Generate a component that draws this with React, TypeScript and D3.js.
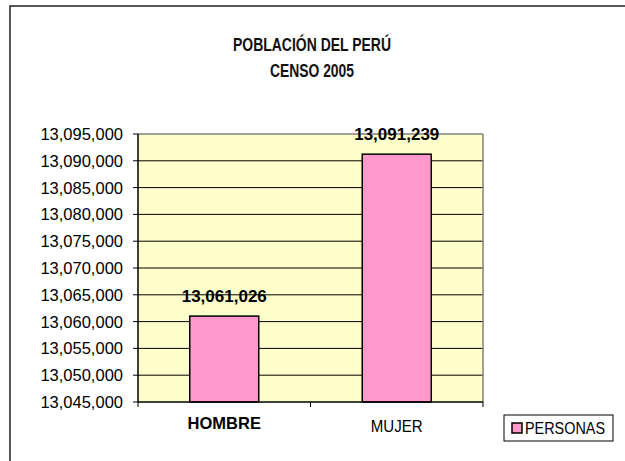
import React from "react";
import * as d3 from "d3";

const categories = ["HOMBRE", "MUJER"];
const values = [13061026, 13091239];
const yTicks = [13045000, 13050000, 13055000, 13060000, 13065000, 13070000, 13075000, 13080000, 13085000, 13090000, 13095000];
const seriesName = "PERSONAS";
const titleLines = ["POBLACIÓN DEL PERÚ", "CENSO 2005"];
const titleWidths = [158, 84];

const W = 625;
const H = 461;
const plot = { left: 138, right: 483, top: 134, bottom: 402 };
const fmt = d3.format(",");
const sans = "'Liberation Sans', Arial, sans-serif";

export default function App() {
  const x = d3
    .scaleBand<string>()
    .domain(categories)
    .range([plot.left, plot.right])
    .paddingInner(0.6)
    .paddingOuter(0.3);
  const y = d3.scaleLinear().domain([13045000, 13095000]).range([plot.bottom, plot.top]);
  const step = x.step();
  const boundaries = [plot.left, plot.left + step, plot.right];

  return (
    <svg
      width={W}
      height={H}
      style={{ position: "absolute", left: 0, top: 0, display: "block", background: "#fff" }}
    >
      <rect x={10} y={6} width={W + 20} height={H + 20} fill="#fff" stroke="#222" strokeWidth={1.5} />
      {titleLines.map((t, i) => (
        <text
          key={t}
          x={312 - titleWidths[i] / 2}
          y={51 + i * 26}
          textLength={titleWidths[i]}
          lengthAdjust="spacingAndGlyphs"
          fontFamily={sans}
          fontWeight="bold"
          fontSize={18}
          fill="#111"
        >
          {t}
        </text>
      ))}
      <rect
        x={plot.left}
        y={plot.top}
        width={plot.right - plot.left}
        height={plot.bottom - plot.top}
        fill="#FFFFCC"
      />
      {yTicks.map((t) => (
        <g key={t}>
          {t !== 13095000 && t !== 13045000 && (
            <line x1={plot.left} x2={plot.right} y1={y(t)} y2={y(t)} stroke="#000" strokeWidth={1} />
          )}
          <line x1={plot.left - 5} x2={plot.left} y1={y(t)} y2={y(t)} stroke="#000" strokeWidth={1} />
          <text
            x={123}
            y={y(t)}
            dy="0.36em"
            textAnchor="end"
            fontFamily={sans}
            fontSize={16.5}
            fill="#000"
          >
            {fmt(t)}
          </text>
        </g>
      ))}
      <line x1={plot.left} x2={plot.right} y1={plot.top} y2={plot.top} stroke="#808080" strokeWidth={1.5} />
      <line x1={plot.right} x2={plot.right} y1={plot.top} y2={plot.bottom} stroke="#808080" strokeWidth={1.5} />
      {categories.map((c, i) => (
        <rect
          key={c}
          x={x(c)}
          y={y(values[i])}
          width={x.bandwidth()}
          height={plot.bottom - y(values[i])}
          fill="#FF99CC"
          stroke="#000"
          strokeWidth={1.5}
        />
      ))}
      <line x1={plot.left} x2={plot.left} y1={plot.top} y2={plot.bottom} stroke="#000" strokeWidth={1.5} />
      <line x1={plot.left} x2={plot.right} y1={plot.bottom} y2={plot.bottom} stroke="#000" strokeWidth={1.5} />
      {boundaries.map((b, i) => (
        <line key={i} x1={b} x2={b} y1={plot.bottom} y2={plot.bottom + 5} stroke="#000" strokeWidth={1} />
      ))}
      {categories.map((c, i) => (
        <text
          key={c + "v"}
          x={(x(c) as number) + x.bandwidth() / 2}
          y={y(values[i]) - 14}
          textAnchor="middle"
          fontFamily={sans}
          fontWeight="bold"
          fontSize={17}
          fill="#000"
        >
          {fmt(values[i])}
        </text>
      ))}
      <text
        x={(x(categories[0]) as number) + x.bandwidth() / 2}
        y={429}
        textAnchor="middle"
        fontFamily={sans}
        fontWeight="bold"
        fontSize={16.5}
        fill="#000"
      >
        {categories[0]}
      </text>
      <text
        x={(x(categories[1]) as number) + x.bandwidth() / 2 - 26}
        y={432}
        textLength={52}
        lengthAdjust="spacingAndGlyphs"
        fontFamily={sans}
        fontSize={17}
        fill="#000"
      >
        {categories[1]}
      </text>
      <rect x={504} y={415} width={109} height={26} fill="#fff" stroke="#000" strokeWidth={1} />
      <rect x={512} y={423} width={10} height={10} fill="#FF99CC" stroke="#000" strokeWidth={1.5} />
      <text
        x={525}
        y={434}
        textLength={80}
        lengthAdjust="spacingAndGlyphs"
        fontFamily={sans}
        fontSize={16}
        fill="#000"
      >
        {seriesName}
      </text>
    </svg>
  );
}
